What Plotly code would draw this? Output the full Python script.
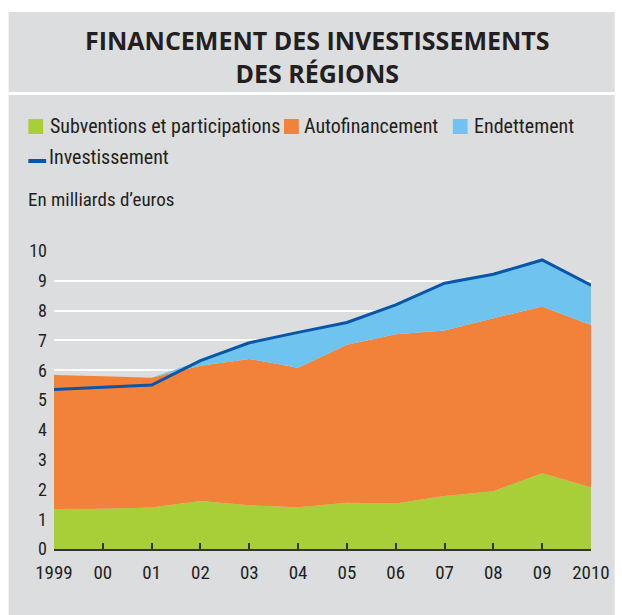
import plotly.graph_objects as go

years = [1999, 2000, 2001, 2002, 2003, 2004, 2005, 2006, 2007, 2008, 2009, 2010]
year_labels = ["1999", "00", "01", "02", "03", "04", "05", "06", "07", "08", "09", "2010"]
subventions = [1.34, 1.35, 1.39, 1.61, 1.47, 1.40, 1.55, 1.53, 1.78, 1.94, 2.54, 2.07]
autofinancement = [4.50, 4.45, 4.36, 4.54, 4.91, 4.68, 5.30, 5.68, 5.55, 5.80, 5.60, 5.45]
endettement = [0.0, 0.0, 0.0, 0.17, 0.54, 1.19, 0.75, 0.98, 1.59, 1.48, 1.56, 1.33]
investissement = [5.35, 5.42, 5.50, 6.32, 6.92, 7.27, 7.60, 8.19, 8.92, 9.22, 9.70, 8.85]
y_ticks = [0, 1, 2, 3, 4, 5, 6, 7, 8, 9, 10]

W, H = 622, 615
L, R, T, B = 54, 24, 251, 66
PW, PH = W - L - R, H - T - B

GREEN = "#a8cf38"
ORANGE = "#f2813a"
BLUE = "#6ec4ee"
LINE = "#0a56a6"
BG = "#dcdddf"
FONT = "Roboto Condensed, Roboto, sans-serif"
TFONT = "Open Sans, sans-serif"
TXT = "#231f20"


def px(x):
    return (x - L) / PW


def py(y):
    return (H - B - y) / PH


fig = go.Figure()
fig.add_trace(go.Scatter(x=years, y=subventions, stackgroup="a", mode="none",
                         fillcolor=GREEN, name="Subventions et participations"))
fig.add_trace(go.Scatter(x=years, y=autofinancement, stackgroup="a", mode="none",
                         fillcolor=ORANGE, name="Autofinancement"))
fig.add_trace(go.Scatter(x=years, y=endettement, stackgroup="a", mode="none",
                         fillcolor=BLUE, name="Endettement"))
fig.add_trace(go.Scatter(x=years, y=investissement, mode="lines",
                         line=dict(color=LINE, width=3), name="Investissement"))

shapes = [
    dict(type="rect", xref="paper", yref="paper", x0=px(8), x1=px(W), y0=py(92), y1=py(12),
         fillcolor=BG, line=dict(width=0), layer="below"),
    dict(type="rect", xref="paper", yref="paper", x0=px(8), x1=px(W), y0=py(H), y1=py(95),
         fillcolor=BG, line=dict(width=0), layer="below"),
]

annotations = [
    dict(text="<b>FINANCEMENT DES INVESTISSEMENTS<br>DES RÉGIONS</b>", x=px(321), y=py(57),
         xref="paper", yref="paper", showarrow=False, xanchor="center", yanchor="middle",
         align="center", font=dict(family=TFONT, size=25, color=TXT)),
    dict(text="En milliards d’euros", x=px(26), y=py(199), xref="paper", yref="paper",
         showarrow=False, xanchor="left", yanchor="middle",
         font=dict(family=FONT, size=19, color=TXT)),
]

# manual legend
legend_items = [
    (GREEN, "Subventions et participations", 28, 48),
    (ORANGE, "Autofinancement", 287, 305),
    (BLUE, "Endettement", 458, 477),
]
for color, label, x0, xt in legend_items:
    shapes.append(dict(type="rect", xref="paper", yref="paper", x0=px(x0), x1=px(x0 + 15),
                       y0=py(134), y1=py(119), fillcolor=color, line=dict(width=0)))
    annotations.append(dict(text=label, x=px(xt), y=py(126), xref="paper", yref="paper",
                            showarrow=False, xanchor="left", yanchor="middle",
                            font=dict(family=FONT, size=20, color=TXT)))
shapes.append(dict(type="line", xref="paper", yref="paper", x0=px(28), x1=px(46),
                   y0=py(161), y1=py(161), line=dict(color=LINE, width=4)))
annotations.append(dict(text="Investissement", x=px(47), y=py(157), xref="paper", yref="paper",
                        showarrow=False, xanchor="left", yanchor="middle",
                        font=dict(family=FONT, size=20, color=TXT)))

fig.update_layout(
    width=W, height=H,
    margin=dict(l=L, r=R, t=T, b=B, pad=0),
    paper_bgcolor="white",
    plot_bgcolor=BG,
    showlegend=False,
    shapes=shapes,
    annotations=annotations,
    font=dict(family=FONT, color=TXT),
)
fig.update_xaxes(range=[1999, 2010], tickvals=years, ticktext=year_labels,
                 showgrid=False, showline=True, linecolor="#333333", linewidth=1.5,
                 ticks="inside", ticklen=6, tickcolor="#333333", tickwidth=1.5,
                 ticklabelstandoff=5,
                 tickfont=dict(family=FONT, size=19, color=TXT), zeroline=False)
fig.update_yaxes(range=[0, 10], tickvals=y_ticks, showgrid=True, gridcolor="white",
                 gridwidth=1.5, zeroline=False, ticks="", ticklabelstandoff=6,
                 tickfont=dict(family=FONT, size=18, color=TXT))

fig.write_html(
    "out.html",
    config={"displayModeBar": False},
    post_script="document.documentElement.style.overflow='hidden';"
                "document.body.style.margin='0';document.body.style.overflow='hidden';",
)
